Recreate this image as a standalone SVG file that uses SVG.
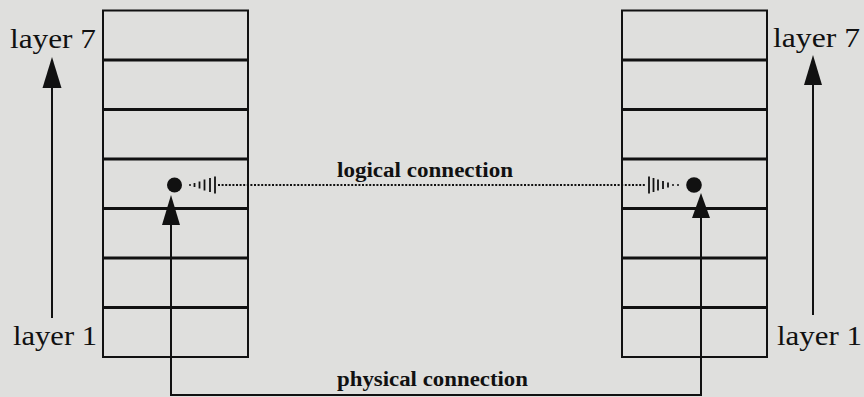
<svg xmlns="http://www.w3.org/2000/svg" width="864" height="397" viewBox="0 0 864 397">
  <style>
    .frame { fill: none; stroke: #111; stroke-width: 2; }
    .divider { stroke: #111; stroke-width: 3; }
    .wire { fill: none; stroke: #111; stroke-width: 2; }
    .dots { fill: none; stroke: #111; stroke-width: 2.2; stroke-dasharray: 2 1.6; }
    .bar { stroke: #111; stroke-width: 1.8; }
    .head { fill: #111; }
    .label { font-family: "Liberation Serif", "Times New Roman", serif; font-size: 27px; fill: #111; }
    .caption { font-family: "Liberation Serif", "Times New Roman", serif; font-size: 20px; font-weight: bold; fill: #111; }
  </style>
  <defs>
    <!-- one protocol stack: seven stacked layers -->
    <g id="stack">
      <rect class="frame" x="0" y="0" width="145" height="346.5"/>
      <line class="divider" x1="0" y1="49.5" x2="145" y2="49.5"/>
      <line class="divider" x1="0" y1="99" x2="145" y2="99"/>
      <line class="divider" x1="0" y1="148.5" x2="145" y2="148.5"/>
      <line class="divider" x1="0" y1="198" x2="145" y2="198"/>
      <line class="divider" x1="0" y1="247.5" x2="145" y2="247.5"/>
      <line class="divider" x1="0" y1="297" x2="145" y2="297"/>
    </g>
  </defs>

  <rect width="864" height="397" fill="#dfdfdd"/>

  <g id="left-stack">
    <use href="#stack" x="103" y="10.5"/>
  </g>
  <g id="right-stack">
    <use href="#stack" x="622" y="10.5"/>
  </g>

  <g id="left-layer-arrow">
    <line class="wire" x1="52" y1="318" x2="52" y2="86"/>
    <polygon class="head" points="52,57 61.5,88 42.5,88"/>
    <text class="label" x="10" y="48" textLength="86" lengthAdjust="spacingAndGlyphs">layer 7</text>
    <text class="label" x="13" y="345" textLength="84" lengthAdjust="spacingAndGlyphs">layer 1</text>
  </g>
  <g id="right-layer-arrow">
    <line class="wire" x1="813" y1="315" x2="813" y2="83"/>
    <polygon class="head" points="813,55 822,85 804,85"/>
    <text class="label" x="773" y="47" textLength="87" lengthAdjust="spacingAndGlyphs">layer 7</text>
    <text class="label" x="777" y="345" textLength="85" lengthAdjust="spacingAndGlyphs">layer 1</text>
  </g>

  <g id="connectors">
    <!-- physical path: up through both stacks, joined along the bottom -->
    <polyline class="wire" points="171,222 171,395 701,395 701,215"/>
    <polygon class="head" points="171,195 180,225 162,225"/>
    <polygon class="head" points="701,193 710,218 692,218"/>
    <circle class="head" cx="174.5" cy="185" r="7.5"/>
    <circle class="head" cx="694" cy="185" r="7.8"/>

    <!-- logical path: dotted line with hatched heads toward each endpoint -->
    <line class="dots" x1="218" y1="185" x2="646" y2="185"/>
    <circle class="head" cx="190" cy="185" r="1"/>
    <line class="bar" x1="194.5" y1="183" x2="194.5" y2="187"/>
    <line class="bar" x1="199.5" y1="181.5" x2="199.5" y2="188.5"/>
    <line class="bar" x1="204.5" y1="179.5" x2="204.5" y2="190.5"/>
    <line class="bar" x1="210" y1="178" x2="210" y2="192"/>
    <line class="bar" x1="215" y1="176.5" x2="215" y2="193.5"/>

    <line class="bar" x1="649" y1="176.5" x2="649" y2="193.5"/>
    <line class="bar" x1="653.5" y1="178" x2="653.5" y2="192"/>
    <line class="bar" x1="658" y1="179.5" x2="658" y2="190.5"/>
    <line class="bar" x1="663" y1="181" x2="663" y2="189"/>
    <line class="bar" x1="668" y1="182.5" x2="668" y2="187.5"/>
    <circle class="head" cx="673" cy="185" r="1"/>
    <circle class="head" cx="678" cy="185" r="1"/>

    <text class="caption" x="337" y="177" textLength="176" lengthAdjust="spacingAndGlyphs">logical connection</text>
    <text class="caption" x="337" y="386" textLength="191" lengthAdjust="spacingAndGlyphs">physical connection</text>
  </g>
</svg>
